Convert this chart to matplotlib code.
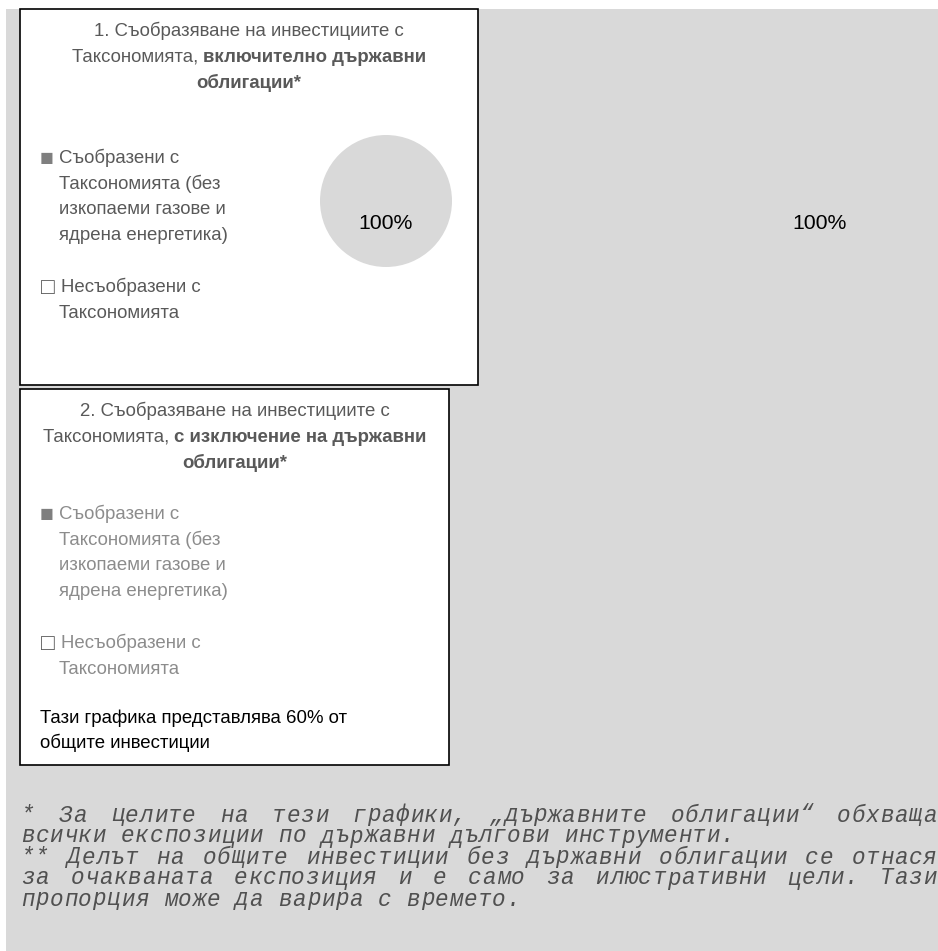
import matplotlib
matplotlib.use("Agg")
import matplotlib.pyplot as plt
from matplotlib.patches import Rectangle

# ============================================================
# DATA
# ============================================================

categories = ["Съобразени с Таксономията", "Несъобразени с Таксономията"]
share_incl_bonds = [100, 0]
share_excl_bonds = [100, 0]

title_1 = [
    [("1. Съобразяване на инвестициите с", "normal")],
    [("Таксономията, ", "normal"), ("включително държавни", "bold")],
    [("облигации*", "bold")],
]
title_2 = [
    [("2. Съобразяване на инвестициите с", "normal")],
    [("Таксономията, ", "normal"), ("с изключение на държавни", "bold")],
    [("облигации*", "bold")],
]

legend_aligned = ["Съобразени с", "Таксономията (без", "изкопаеми газове и", "ядрена енергетика)"]
legend_not_aligned = ["Несъобразени с", "Таксономията"]

share_note = ["Тази графика представлява 60% от", "общите инвестиции"]

footnotes = [
    ("* За целите на тези графики, „държавните облигации“ обхваща", True),
    ("всички експозиции по държавни дългови инструменти.", False),
    ("** Делът на общите инвестиции без държавни облигации се отнася", True),
    ("за очакваната експозиция и е само за илюстративни цели. Тази", True),
    ("пропорция може да варира с времето.", False),
]

# ============================================================
# FIGURE
# ============================================================

W, H = 938, 951
fig = plt.figure(figsize=(W / 100, H / 100), dpi=100)
ax = fig.add_axes([0, 0, 1, 1])
ax.set_xlim(0, W)
ax.set_ylim(H, 0)
ax.axis("off")

SANS = ["Liberation Sans", "DejaVu Sans"]
MONO = ["Liberation Mono", "DejaVu Sans Mono"]
GRAY_BG = "#d9d9d9"
TITLE_C = "#595959"
FS = 13.4

ax.add_patch(Rectangle((6, 9), W - 6, H - 9, fc=GRAY_BG, ec="none"))
ax.add_patch(Rectangle((20, 9), 458, 376, fc="white", ec="black", lw=1.2))
ax.add_patch(Rectangle((20, 389), 429, 376, fc="white", ec="black", lw=1.2))

renderer = fig.canvas.get_renderer()


def text_width(s, **kw):
    t = ax.text(0, 0, s, **kw)
    w = t.get_window_extent(renderer).width
    t.remove()
    return w


def mixed_line(xc, y, parts, size, color):
    widths = [text_width(p, family=SANS, size=size, weight=wt) for p, wt in parts]
    x = xc - sum(widths) / 2
    for (p, wt), w in zip(parts, widths):
        ax.text(x, y, p, family=SANS, size=size, weight=wt, color=color,
                ha="left", va="center")
        x += w


def draw_title(lines, xc, y0):
    for i, parts in enumerate(lines):
        mixed_line(xc, y0 + i * 26, parts, FS, TITLE_C)


def draw_legend(y0, color):
    ax.text(47, y0, "■", family=SANS, size=16.5, color="#7f7f7f",
            ha="center", va="center")
    for i, s in enumerate(legend_aligned):
        ax.text(59, y0 + i * 26, s, family=SANS, size=FS, color=color, va="center")
    y1 = y0 + 129
    ax.text(47.5, y1, "□", family=SANS, size=16.5, color="#595959",
            ha="center", va="center")
    for i, s in enumerate(legend_not_aligned):
        ax.text(61 if i == 0 else 59, y1 + i * 26, s, family=SANS, size=FS,
                color=color, va="center")


draw_title(title_1, 249, 31)
draw_title(title_2, 234.5, 411)
draw_legend(158, "#595959")
draw_legend(514, "#8c8c8c")

for i, s in enumerate(share_note):
    ax.text(40, 718 + i * 25, s, family=SANS, size=FS, color="black", va="center")

# ============================================================
# PIES
# ============================================================


def pie_at(cx, cy, r, values):
    pax = fig.add_axes([(cx - r) / W, 1 - (cy + r) / H, 2 * r / W, 2 * r / H])
    pax.pie(values, colors=[GRAY_BG, "white"], startangle=90, radius=1,
            autopct=lambda p: f"{p:.0f}%" if p > 0 else "",
            pctdistance=0.34,
            textprops=dict(family=SANS, size=15.3, color="black"))
    pax.set_xlim(-1, 1)
    pax.set_ylim(-1, 1)
    pax.axis("off")


pie_at(386, 201, 66, share_incl_bonds)
pie_at(819.5, 201, 66, share_excl_bonds)

# ============================================================
# FOOTNOTES (monospace, justified)
# ============================================================

FN_LEFT, FN_RIGHT = 21, 937
ADV = 14.28   # character advance in px
fn_kw = dict(family=MONO, style="italic", size=16.3, color="#505050",
             ha="left", va="center")


def put_word(x, y, word):
    for k, ch in enumerate(word):
        ax.text(x + k * ADV, y, ch, **fn_kw)


for i, (line, justify) in enumerate(footnotes):
    y = 815 + i * 21
    words = line.split(" ")
    if justify:
        gap = (FN_RIGHT - FN_LEFT - ADV * sum(len(wd) for wd in words)) / (len(words) - 1)
    else:
        gap = ADV
    x = FN_LEFT
    for wd in words:
        put_word(x, y, wd)
        x += ADV * len(wd) + gap

fig.savefig("out.png", dpi=100)
